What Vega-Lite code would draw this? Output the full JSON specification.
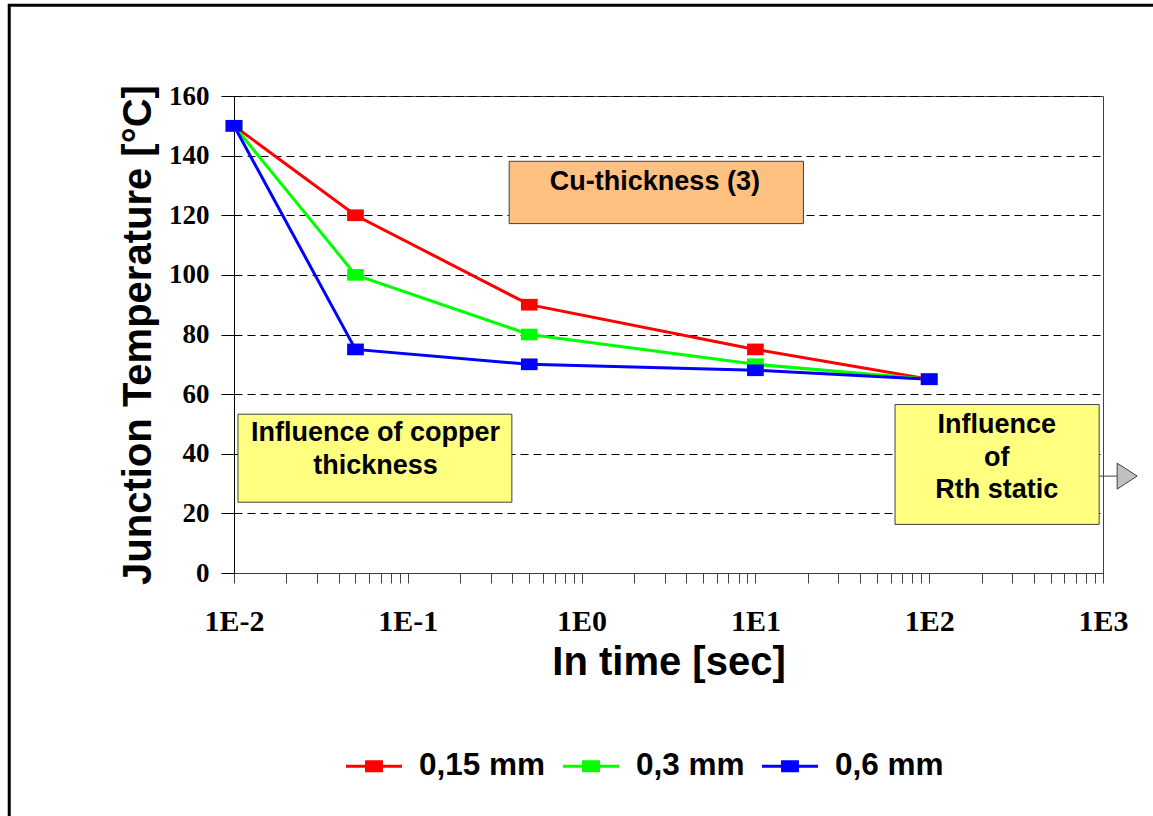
{
  "$schema": "https://vega.github.io/schema/vega-lite/v6.json",
  "width": 869,
  "height": 477,
  "autosize": {"type": "none"},
  "padding": {"left": 234, "top": 96, "right": 50, "bottom": 243},
  "background": "white",
  "config": {
    "view": {"stroke": "#404040", "strokeWidth": 1},
    "font": "Liberation Sans"
  },
  "layer": [
    {
      "data": {"values": [{"x1": 0.000509, "x2": 3000, "y1": 190.4, "y2": -100}]},
      "mark": {"type": "rect", "filled": false, "stroke": "#000000", "strokeWidth": 3, "clip": false},
      "encoding": {
        "x": {"field": "x1", "type": "quantitative", "title": "In time [sec]"},
        "x2": {"field": "x2"},
        "y": {"field": "y1", "type": "quantitative", "title": "Junction Temperature [°C]"},
        "y2": {"field": "y2"}
      }
    },
    {
      "data": {"values": [
        {"t": 0.01, "temp": 150, "thickness": "0,15 mm"},
        {"t": 0.05, "temp": 120, "thickness": "0,15 mm"},
        {"t": 0.5, "temp": 90, "thickness": "0,15 mm"},
        {"t": 10, "temp": 75, "thickness": "0,15 mm"},
        {"t": 100, "temp": 65, "thickness": "0,15 mm"},
        {"t": 0.01, "temp": 150, "thickness": "0,3 mm"},
        {"t": 0.05, "temp": 100, "thickness": "0,3 mm"},
        {"t": 0.5, "temp": 80, "thickness": "0,3 mm"},
        {"t": 10, "temp": 70, "thickness": "0,3 mm"},
        {"t": 100, "temp": 65, "thickness": "0,3 mm"},
        {"t": 0.01, "temp": 150, "thickness": "0,6 mm"},
        {"t": 0.05, "temp": 75, "thickness": "0,6 mm"},
        {"t": 0.5, "temp": 70, "thickness": "0,6 mm"},
        {"t": 10, "temp": 68, "thickness": "0,6 mm"},
        {"t": 100, "temp": 65, "thickness": "0,6 mm"}
      ]},
      "encoding": {
        "x": {
          "field": "t", "type": "quantitative", "title": "In time [sec]",
          "scale": {"type": "log", "domain": [0.01, 1000], "nice": false, "zero": false},
          "axis": {
            "values": [0.01,0.02,0.03,0.04,0.05,0.06,0.07,0.08,0.09,0.1,0.2,0.3,0.4,0.5,0.6,0.7,0.8,0.9,1,2,3,4,5,6,7,8,9,10,20,30,40,50,60,70,80,90,100,200,300,400,500,600,700,800,900,1000],
            "labelExpr": "abs(log(datum.value)/LN10 - round(log(datum.value)/LN10)) < 0.001 ? '1E' + round(log(datum.value)/LN10) : ''",
            "labelOverlap": false,
            "labelBound": false,
            "labelFlush": false,
            "labelFont": "Liberation Serif",
            "labelFontWeight": "bold",
            "labelFontSize": 30,
            "labelColor": "#000000",
            "labelPadding": 23,
            "tickSize": 10,
            "tickColor": "#404040",
            "tickWidth": 1,
            "domainColor": "#404040",
            "domainWidth": 1,
            "grid": false,
            "titleFont": "Liberation Sans",
            "titleFontWeight": "bold",
            "titleFontSize": 40,
            "titleColor": "#000000",
            "titlePadding": 6,
            "encode": {
              "ticks": {"update": {
                "y": {"signal": "abs(log(datum.value)/LN10 - round(log(datum.value)/LN10)) < 0.001 ? -10 : -6"},
                "y2": {"signal": "abs(log(datum.value)/LN10 - round(log(datum.value)/LN10)) < 0.001 ? 10 : 6"}
              }}
            }
          }
        },
        "y": {
          "field": "temp", "type": "quantitative", "title": "Junction Temperature [°C]",
          "scale": {"domain": [0, 160], "nice": false, "zero": false},
          "axis": {
            "values": [0, 20, 40, 60, 80, 100, 120, 140, 160],
            "labelFont": "Liberation Serif",
            "labelFontWeight": "bold",
            "labelFontSize": 27,
            "labelColor": "#000000",
            "labelPadding": 12,
            "tickSize": 13,
            "tickColor": "#000000",
            "domainColor": "#000000",
            "grid": true,
            "gridColor": "#000000",
            "gridDash": [8, 5],
            "gridWidth": 1,
            "titleFont": "Liberation Sans",
            "titleFontWeight": "bold",
            "titleFontSize": 40,
            "titleColor": "#000000",
            "titlePadding": 10
          }
        },
        "color": {
          "field": "thickness", "type": "nominal",
          "scale": {"domain": ["0,15 mm", "0,3 mm", "0,6 mm"], "range": ["#FF0000", "#00FF00", "#0000FF"]},
          "legend": {
            "orient": "none",
            "legendX": 112,
            "legendY": 642,
            "direction": "horizontal",
            "title": null,
            "padding": 0,
            "labelFont": "Liberation Sans",
            "labelFontWeight": "bold",
            "labelFontSize": 31.5,
            "labelColor": "#000000",
            "labelOffset": 17,
            "columnPadding": 17,
            "symbolType": "M-1,-0.054H1V0.054H-1Z M-0.32,-0.21H0.32V0.21H-0.32Z",
            "symbolSize": 3136,
            "symbolStrokeWidth": 0,
            "encode": {"symbols": {"update": {"fill": {"scale": "color", "field": "value"}, "opacity": {"value": 1}, "fillOpacity": {"value": 1}}}}
          }
        }
      },
      "layer": [
        {"mark": {"type": "line", "strokeWidth": 3}},
        {"mark": {"type": "point", "filled": true, "opacity": 1, "shape": "M-1,-0.7H1V0.7H-1Z", "size": 279}}
      ]
    },
    {
      "data": {"values": [{"x1": 0.383, "x2": 18.9, "y1": 138.1, "y2": 117.2}]},
      "mark": {"type": "rect", "fill": "#FFC080", "stroke": "#404040", "strokeWidth": 1},
      "encoding": {
        "x": {"field": "x1", "type": "quantitative", "title": "In time [sec]"},
        "x2": {"field": "x2"},
        "y": {"field": "y1", "type": "quantitative", "title": "Junction Temperature [°C]"},
        "y2": {"field": "y2"}
      }
    },
    {
      "data": {"values": [
        {"x1": 0.01054, "x2": 0.397, "y1": 53.27, "y2": 23.75},
        {"x1": 63.6, "x2": 950.5, "y1": 56.5, "y2": 16.3}
      ]},
      "mark": {"type": "rect", "fill": "#FFFF80", "stroke": "#404040", "strokeWidth": 1},
      "encoding": {
        "x": {"field": "x1", "type": "quantitative", "title": "In time [sec]"},
        "x2": {"field": "x2"},
        "y": {"field": "y1", "type": "quantitative", "title": "Junction Temperature [°C]"},
        "y2": {"field": "y2"}
      }
    },
    {
      "data": {"values": [
        {"x": 2.64, "y": 128.4, "label": "Cu-thickness (3)"},
        {"x": 0.0652, "y": 44.2, "label": "Influence of copper\nthickness"},
        {"x": 245, "y": 46.8, "label": "Influence\nof\nRth static"}
      ]},
      "mark": {"type": "text", "font": "Liberation Sans", "fontWeight": "bold", "fontSize": 27, "align": "center", "baseline": "alphabetic", "lineBreak": "\n", "lineHeight": 32.5, "color": "#000000"},
      "encoding": {
        "x": {"field": "x", "type": "quantitative", "title": "In time [sec]"},
        "y": {"field": "y", "type": "quantitative", "title": "Junction Temperature [°C]"},
        "text": {"field": "label", "type": "nominal"}
      }
    },
    {
      "data": {"values": [{"x1": 950.5, "x2": 1207, "y": 32.5}]},
      "mark": {"type": "rule", "stroke": "#404040", "strokeWidth": 1, "clip": false},
      "encoding": {
        "x": {"field": "x1", "type": "quantitative", "title": "In time [sec]"},
        "x2": {"field": "x2"},
        "y": {"field": "y", "type": "quantitative", "title": "Junction Temperature [°C]"}
      }
    },
    {
      "data": {"values": [{"x": 1377, "y": 32.5}]},
      "mark": {"type": "point", "filled": true, "shape": "M-0.77,-1L0.77,0L-0.77,1Z", "size": 676, "fill": "#C0C0C0", "stroke": "#404040", "strokeWidth": 1, "opacity": 1, "clip": false},
      "encoding": {
        "x": {"field": "x", "type": "quantitative", "title": "In time [sec]"},
        "y": {"field": "y", "type": "quantitative", "title": "Junction Temperature [°C]"}
      }
    }
  ]
}
